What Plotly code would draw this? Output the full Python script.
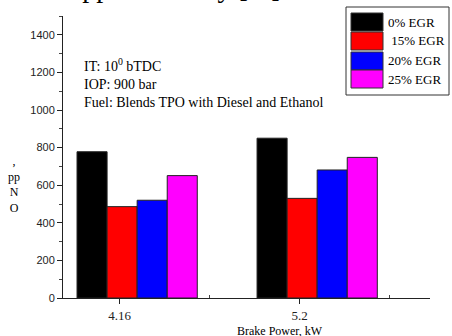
import plotly.graph_objects as go

# ---- data ----
categories = ["4.16", "5.2"]
series_names = ["0% EGR", "15% EGR", "20% EGR", "25% EGR"]
legend_labels = ["0% EGR", "&nbsp;15% EGR", "20% EGR", "25% EGR"]
nox_0 = [778, 850]
nox_15 = [486, 530]
nox_20 = [520, 681]
nox_25 = [651, 748]
series_values = [nox_0, nox_15, nox_20, nox_25]
colors = ["#000000", "#ff0000", "#0000ff", "#ff00ff"]
y_ticks = [0, 200, 400, 600, 800, 1000, 1200, 1400]

# ---- layout geometry (pixels) ----
W, H = 452, 336
L, R, T, B = 63, 430, 16, 298
pw, ph = R - L, B - T

def px(x):
    return (x - L) / pw

def py(y):
    return (B - y) / ph

bar_w = 0.167
group_start = -0.237
xpos = list(range(len(categories)))

fig = go.Figure()
for i, (name, vals, c) in enumerate(zip(series_names, series_values, colors)):
    fig.add_trace(go.Bar(
        x=xpos, y=vals, name=name,
        width=bar_w, offset=group_start + i * bar_w,
        marker=dict(color=c, line=dict(color="#222222", width=1)),
        showlegend=False,
    ))

fig.update_layout(
    width=W, height=H,
    margin=dict(l=L, r=W - R, t=T, b=H - B),
    paper_bgcolor="white", plot_bgcolor="white",
    barmode="overlay",
    xaxis=dict(
        range=[(L - 2 - 118) / 181, (R - 118) / 181],
        tickvals=xpos, ticktext=categories,
        showline=True, linecolor="#222222", linewidth=1,
        ticks="outside", ticklen=5, tickcolor="#222222",
        minor=dict(tickvals=[0.5, 1.5], ticks="inside", ticklen=3, tickcolor="#444444"),
        showgrid=False, zeroline=False,
        tickfont=dict(family="Liberation Serif", size=13, color="#222222"),
    ),
    yaxis=dict(
        range=[0, 1500],
        tickvals=y_ticks,
        showline=True, linecolor="#222222", linewidth=1,
        ticks="outside", ticklen=5, tickcolor="#222222",
        minor=dict(dtick=100, ticks="outside", ticklen=3, tickcolor="#444444"),
        showgrid=False, zeroline=False,
        tickfont=dict(family="Liberation Sans", size=11, color="#222222"),
    ),
)

# text block
fig.add_annotation(
    x=px(82), y=py(54), xref="paper", yref="paper",
    xanchor="left", yanchor="top", align="left", showarrow=False,
    text="IT: 10<sup>0</sup> bTDC<br>IOP: 900 bar<br>Fuel: Blends TPO with Diesel and Ethanol",
    font=dict(family="Liberation Serif", size=14, color="#000000"),
)

# x-axis title
fig.add_annotation(
    x=px(280), y=py(331), xref="paper", yref="paper",
    xanchor="center", yanchor="middle", showarrow=False,
    text="Brake Power, kW",
    font=dict(family="Liberation Serif", size=12, color="#000000"),
)

# clipped y-axis title
fig.add_annotation(
    x=px(14), y=py(184), xref="paper", yref="paper",
    xanchor="center", yanchor="middle", showarrow=False,
    text=",<br>pp<br>N<br>O",
    font=dict(family="Liberation Serif", size=12, color="#000000"),
)

# clipped top title (only descenders visible)
fig.add_annotation(
    x=px(60), y=1.0, xref="paper", yref="paper",
    xanchor="left", yanchor="bottom", yshift=11, showarrow=False,
    text="Approximately [%]",
    font=dict(family="Liberation Serif", size=28, color="#000000"),
)

# manual legend
fig.add_shape(type="rect", xref="paper", yref="paper",
              x0=px(346), x1=px(449), y0=py(95), y1=py(7),
              line=dict(color="#333333", width=1), fillcolor="white")
row_tops = [13, 32, 52, 70]
for lab, c, top in zip(legend_labels, colors, row_tops):
    fig.add_shape(type="rect", xref="paper", yref="paper",
                  x0=px(351), x1=px(383), y0=py(top + 18), y1=py(top),
                  line=dict(color="#333333", width=1), fillcolor=c)
    fig.add_annotation(
        x=px(386), y=py(top + 9), xref="paper", yref="paper",
        xanchor="left", yanchor="middle", showarrow=False,
        text=lab,
        font=dict(family="Liberation Serif", size=13, color="#000000"),
    )

fig.write_html(
    "out.html",
    config={"displayModeBar": False},
    post_script="document.body.style.margin='0px';document.body.style.overflow='hidden';",
)
